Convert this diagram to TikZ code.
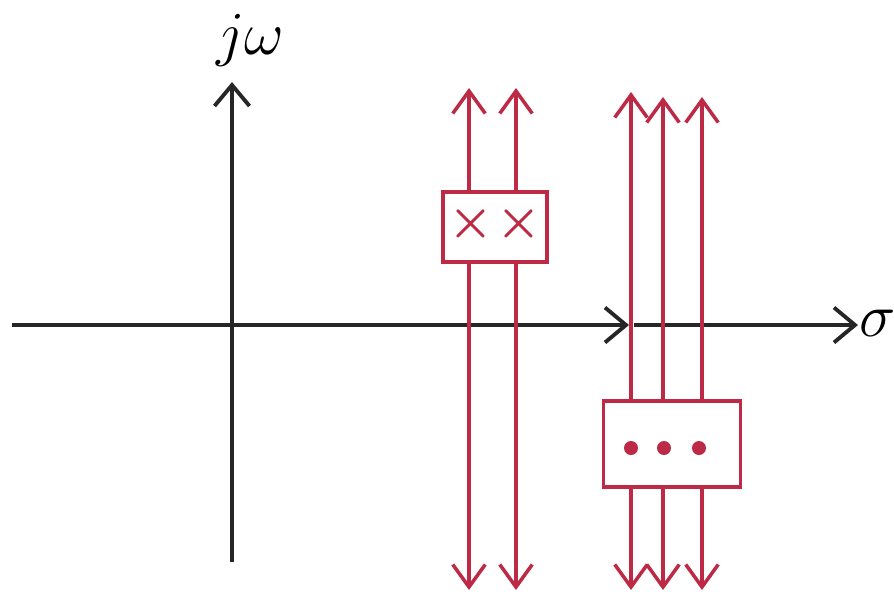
\documentclass[tikz,border=0pt]{standalone}
\usepackage{amsmath,amssymb}
\usepackage{xcolor}
\usetikzlibrary{arrows.meta,positioning}

\definecolor{polered}{RGB}{188,42,70}

\begin{document}
\begin{tikzpicture}[
  x=0.02cm, y=-0.02cm,
  axis/.style={-{Straight Barb[length=4.2mm,width=7mm,line width=2.2pt]}, line width=2pt, black!85},
  rline/.style={-{Straight Barb[length=4.5mm,width=6.5mm,line width=2pt]}, line width=1.8pt, polered},
  polebox/.style={draw=polered, line width=2pt, inner sep=0pt},
  polemark/.style={text=polered, font=\Huge\boldmath, scale=1.15},
  dot/.style={circle, fill=polered, inner sep=0pt, minimum size=0.28cm},
  lbl/.style={font=\Huge, scale=1.4}
]
\useasboundingbox (0,0) rectangle (894,596);

% axes
\coordinate (o) at (232,325);
\coordinate (wbot) at (232,562);
\coordinate (wtop) at (232,82);
\coordinate (sleft) at (12,325);
\coordinate (smid) at (629,325);
\coordinate (smid2) at (634,325);
\coordinate (sright) at (858,325);
\draw[axis] (wbot) -- (wtop);
\draw[axis] (sleft) -- (smid);
\draw[axis] (smid2) -- (sright);
\node[lbl] (jw) at (250,40) {$j\omega$};
\node[lbl] (sig) at (878,323) {$\sigma$};

% poles in the box
\node[polebox, minimum width=2.08cm, minimum height=1.4cm] (poles) at (495,227) {};
\node[polemark] (p1) at (471,224) {$\times$};
\node[polemark] (p2) at (519,224) {$\times$};
\foreach \n/\x in {a/469, b/516} {
  \coordinate (top\n) at (\x,88);
  \coordinate (bot\n) at (\x,590);
  \draw[rline] (poles.north -| top\n) -- (top\n);
  \draw[rline] (poles.south -| bot\n) -- (bot\n);
}

% zeros in the box
\node[polebox, minimum width=2.74cm, minimum height=1.72cm] (zeros) at (672,444) {};
\node[dot] (z1) at (631,448) {};
\node[dot] (z2) at (664,448) {};
\node[dot] (z3) at (699,448) {};
\foreach \n/\x/\t in {c/631/92, d/663/97, e/702/97} {
  \coordinate (top\n) at (\x,\t);
  \coordinate (bot\n) at (\x,590);
  \draw[rline] (zeros.north -| top\n) -- (top\n);
  \draw[rline] (zeros.south -| bot\n) -- (bot\n);
}

\end{tikzpicture}
\end{document}
